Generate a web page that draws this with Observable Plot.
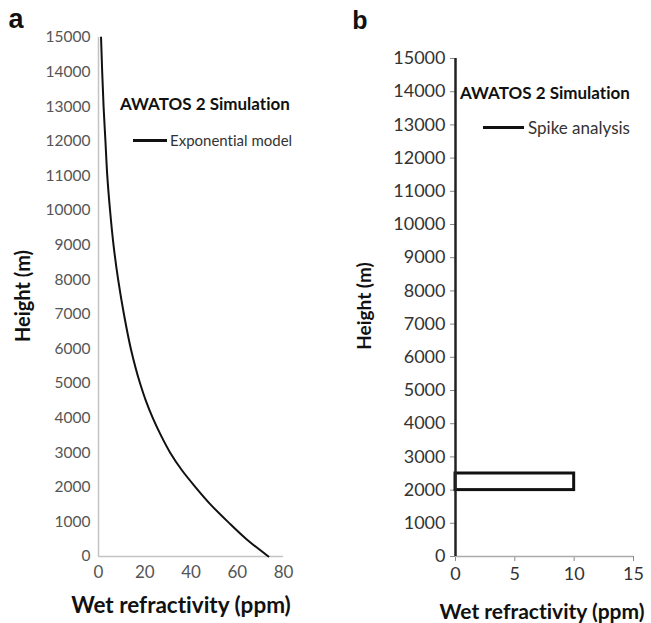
<!DOCTYPE html>
<html><head><meta charset="utf-8">
<script src="https://cdn.jsdelivr.net/npm/d3@7"></script>
<script src="https://cdn.jsdelivr.net/npm/@observablehq/plot@0.6"></script>
<style>
body{margin:0;background:#fff;}
#wrap{position:relative;width:651px;height:623px;overflow:hidden;font-family:Lato,sans-serif;background:#fff;font-variant-ligatures:none;}
#wrap svg{position:absolute;top:0;font-variant-ligatures:none;}
.t{position:absolute;white-space:nowrap;line-height:1;color:#111;font-variant-ligatures:none;}
.c{transform:translate(-50%,-50%);}
.l{transform:translate(0,-50%);}
.rot{transform:translate(-50%,-50%) rotate(-90deg);}
.leg{position:absolute;height:3px;background:#111;}
</style></head><body><div id="wrap"></div>
<script>
// Panel a: exponential model (height m, wet refractivity ppm)
const heightsA = [0, 500, 1000, 1500, 2000, 2500, 3000, 3500, 4000, 4500, 5000, 6000, 7000, 8000, 9000, 10000, 11000, 12000, 13000, 14000, 15000];
const refractA = [73.5, 64, 56, 48.5, 42, 36, 31, 27, 23.5, 20.5, 18, 14, 11, 8.5, 6.5, 5, 3.8, 3, 2.2, 1.6, 1.1];
const xTicksA = [0, 20, 40, 60, 80];
// Panel b: spike analysis
const spikeBottom = [2000];
const spikeTop = [2500];
const spikeValue = [10];
const xTicksB = [0, 5, 10, 15];
const yTicks = [0, 1000, 2000, 3000, 4000, 5000, 6000, 7000, 8000, 9000, 10000, 11000, 12000, 13000, 14000, 15000];

const seriesA = heightsA.map((h, i) => ({h, n: refractA[i]}));
const spikes = spikeValue.map((v, i) => ({x1: 0, x2: v, y1: spikeBottom[i], y2: spikeTop[i]}));

const wrap = document.getElementById("wrap");

const plotA = Plot.plot({
  width: 300, height: 623,
  marginLeft: 98, marginRight: 17, marginTop: 37, marginBottom: 67,
  style: {fontFamily: "Lato, sans-serif", fontSize: "15.5px", color: "#555", background: "transparent"},
  x: {domain: [0, 80]},
  y: {domain: [0, 15000]},
  marks: [
    Plot.axisX({ticks: xTicksA, tickSize: 0, tickPadding: 9, label: null, fontSize: 17}),
    Plot.axisY({ticks: yTicks, tickSize: 0, tickPadding: 8, tickFormat: d3.format("d"), label: null}),
    Plot.ruleX([0], {stroke: "#c4c4c4", strokeWidth: 1.5}),
    Plot.ruleY([0], {stroke: "#c4c4c4", strokeWidth: 1.5}),
    Plot.line(seriesA, {x: "n", y: "h", stroke: "#111", strokeWidth: 2, curve: "monotone-y"})
  ]
});
plotA.style.left = "0px";
wrap.appendChild(plotA);

const plotB = Plot.plot({
  width: 321, height: 623,
  marginLeft: 125, marginRight: 18, marginTop: 58, marginBottom: 67,
  style: {fontFamily: "Lato, sans-serif", fontSize: "18px", color: "#333", background: "transparent"},
  x: {domain: [0, 15]},
  y: {domain: [0, 15000]},
  marks: [
    Plot.axisX({ticks: xTicksB, tickSize: 5, tickPadding: 6, label: null, stroke: "#888"}),
    Plot.axisY({ticks: yTicks, tickSize: 5, tickPadding: 5, tickFormat: d3.format("d"), label: null, stroke: "#888"}),
    Plot.ruleY([0], {stroke: "#aaa", strokeWidth: 1.5}),
    Plot.rect(spikes, {x1: "x1", x2: "x2", y1: "y1", y2: "y2", fill: "#fff", stroke: "#111", strokeWidth: 3}),
    Plot.ruleX([0], {stroke: "#222", strokeWidth: 2.5})
  ]
});
plotB.style.left = "330px";
wrap.appendChild(plotB);

function txt(s, x, y, cls, css) {
  const d = document.createElement("div");
  d.className = "t " + cls;
  d.textContent = s;
  d.style.left = x + "px";
  d.style.top = y + "px";
  Object.assign(d.style, css || {});
  wrap.appendChild(d);
}
function leg(x1, x2, y) {
  const d = document.createElement("div");
  d.className = "leg";
  d.style.left = x1 + "px"; d.style.width = (x2 - x1) + "px"; d.style.top = (y - 1.5) + "px";
  wrap.appendChild(d);
}
// panel letters
txt("a", 16, 19, "c", {fontFamily: "'Liberation Sans', Arial, sans-serif", fontWeight: "bold", fontSize: "27px"});
txt("b", 360, 20, "c", {fontFamily: "'Liberation Sans', Arial, sans-serif", fontWeight: "bold", fontSize: "25px"});
// axis titles
txt("Height (m)", 22, 296, "rot", {fontWeight: "bold", fontSize: "20px"});
txt("Height (m)", 363, 306, "rot", {fontWeight: "bold", fontSize: "19px"});
txt("Wet refractivity (ppm)", 181, 605, "c", {fontWeight: "bold", fontSize: "22.5px"});
txt("Wet refractivity (ppm)", 542, 610, "c", {fontWeight: "bold", fontSize: "21px"});
// titles & legends
txt("AWATOS 2 Simulation", 120, 103, "l", {fontWeight: "bold", fontSize: "17px"});
leg(133, 167, 140);
txt("Exponential model", 170, 140, "l", {fontSize: "15px", color: "#333"});
txt("AWATOS 2 Simulation", 460, 92, "l", {fontWeight: "bold", fontSize: "17px"});
leg(483, 524, 127);
txt("Spike analysis", 528, 127, "l", {fontSize: "17px", color: "#333"});
</script>
</body></html>
